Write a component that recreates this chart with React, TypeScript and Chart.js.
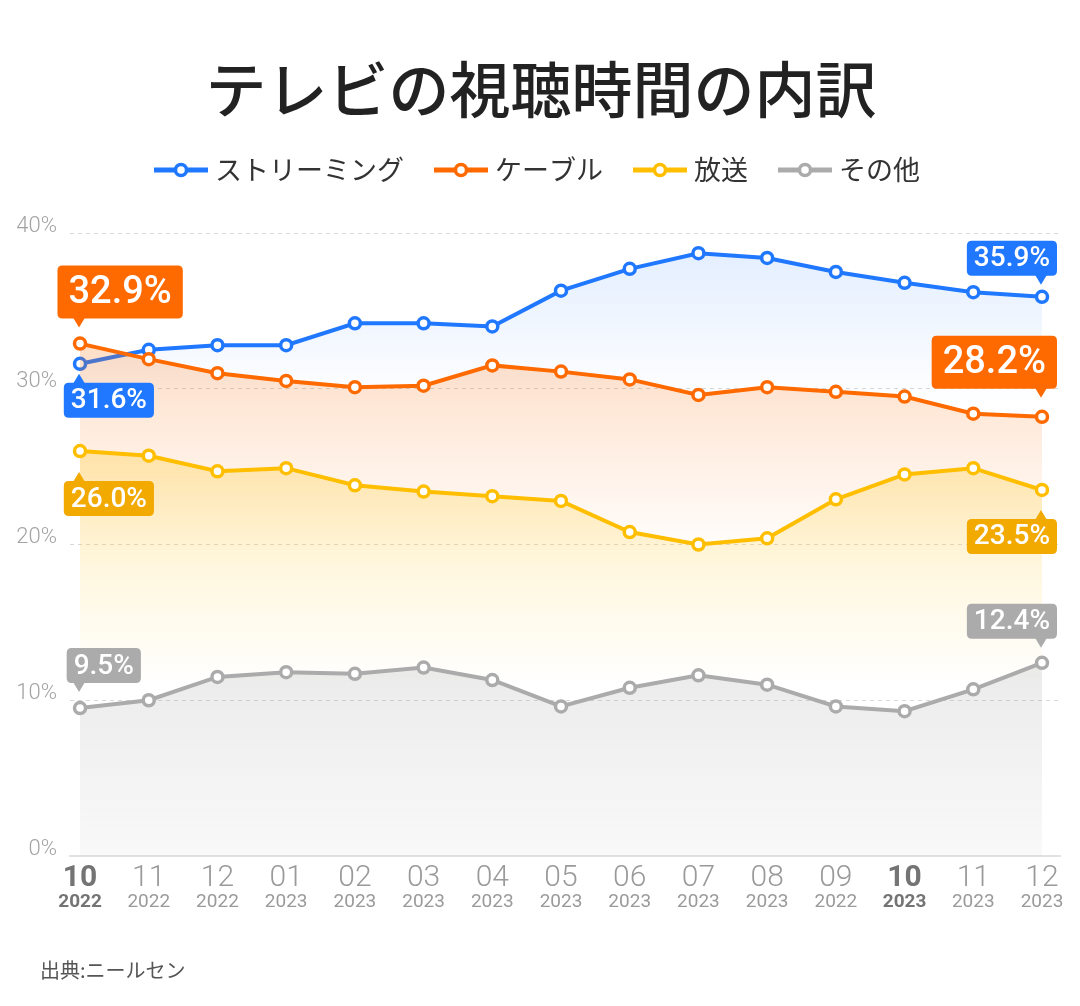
import React, { useEffect, useRef } from "react";
import { Chart, registerables } from "chart.js";

Chart.register(...registerables);

// ---------- data ----------
const TITLE = "テレビの視聴時間の内訳";
const SOURCE = "出典:ニールセン";
const MONTHS = ["10", "11", "12", "01", "02", "03", "04", "05", "06", "07", "08", "09", "10", "11", "12"];
const YEARS = ["2022", "2022", "2022", "2023", "2023", "2023", "2023", "2023", "2023", "2023", "2023", "2022", "2023", "2023", "2023"];
const BOLD_TICKS = [0, 12];
const SERIES_NAMES = ["ストリーミング", "ケーブル", "放送", "その他"];
const STREAMING = [31.6, 32.5, 32.8, 32.8, 34.2, 34.2, 34.0, 36.3, 37.7, 38.7, 38.4, 37.5, 36.8, 36.2, 35.9];
const CABLE = [32.9, 31.9, 31.0, 30.5, 30.1, 30.2, 31.5, 31.1, 30.6, 29.6, 30.1, 29.8, 29.5, 28.4, 28.2];
const BROADCAST = [26.0, 25.7, 24.7, 24.9, 23.8, 23.4, 23.1, 22.8, 20.8, 20.0, 20.4, 22.9, 24.5, 24.9, 23.5];
const OTHER = [9.5, 10.0, 11.5, 11.8, 11.7, 12.1, 11.3, 9.6, 10.8, 11.6, 11.0, 9.6, 9.3, 10.7, 12.4];
const Y_MIN = 0;
const Y_MAX = 40;
const Y_STEP = 10;

// ---------- styles ----------
const LINE_COLORS = ["#1f78ff", "#ff6a00", "#ffbf00", "#ababab"];
const BOX_COLORS = ["#1f78ff", "#ff6a00", "#f2a900", "#ababab"];
const FILL_RGB = ["31,120,255", "255,106,0", "255,191,0", "170,170,170"];
const FILL_STYLE = [
  { bottom: 29, a0: 0.12, a1: 0 },
  { bottom: 19, a0: 0.22, a1: 0 },
  { bottom: 11, a0: 0.26, a1: 0 },
  { bottom: 0, a0: 0.24, a1: 0.07 },
];
const CJK = "'Noto Sans CJK JP', 'Noto Sans', sans-serif";
const NUM = "Roboto, 'Liberation Sans', sans-serif";

const CALLOUTS = [
  { ds: 1, idx: 0, place: "above", size: "large", gap: 16 },
  { ds: 0, idx: 0, place: "below", size: "small", gap: 10 },
  { ds: 2, idx: 0, place: "below", size: "small", gap: 21 },
  { ds: 3, idx: 0, place: "above", size: "small", gap: 16 },
  { ds: 0, idx: 14, place: "above", size: "small", gap: 12 },
  { ds: 1, idx: 14, place: "above", size: "large", gap: 19 },
  { ds: 2, idx: 14, place: "below", size: "small", gap: 20 },
  { ds: 3, idx: 14, place: "above", size: "small", gap: 15 },
];

function roundRect(ctx: CanvasRenderingContext2D, x: number, y: number, w: number, h: number, r: number) {
  ctx.beginPath();
  ctx.moveTo(x + r, y);
  ctx.lineTo(x + w - r, y);
  ctx.quadraticCurveTo(x + w, y, x + w, y + r);
  ctx.lineTo(x + w, y + h - r);
  ctx.quadraticCurveTo(x + w, y + h, x + w - r, y + h);
  ctx.lineTo(x + r, y + h);
  ctx.quadraticCurveTo(x, y + h, x, y + h - r);
  ctx.lineTo(x, y + r);
  ctx.quadraticCurveTo(x, y, x + r, y);
  ctx.closePath();
}

function drawCallout(
  ctx: CanvasRenderingContext2D,
  px: number,
  py: number,
  text: string,
  color: string,
  size: string,
  side: string,
  place: string,
  gap: number
) {
  const large = size === "large";
  const fontSize = large ? 38 : 28;
  ctx.font = `500 ${fontSize}px ${NUM}`;
  const tw = ctx.measureText(text).width;
  const padX = large ? 11 : 7;
  const h = large ? 53 : 35;
  const w = tw + padX * 2;
  const left = side === "left" ? px - 0.18 * w : px + 15 - w;
  const tri = 9;
  let tipY: number, top: number, baseY: number;
  if (place === "above") {
    tipY = py - gap;
    baseY = tipY - tri;
    top = baseY - h;
  } else {
    tipY = py + gap;
    baseY = tipY + tri;
    top = baseY;
  }
  ctx.fillStyle = color;
  roundRect(ctx, left, top, w, h, 5);
  ctx.fill();
  const tx = px - 1;
  ctx.beginPath();
  ctx.moveTo(tx - 6, place === "above" ? baseY - 1 : baseY + 1);
  ctx.lineTo(tx + 6, place === "above" ? baseY - 1 : baseY + 1);
  ctx.lineTo(tx, tipY);
  ctx.closePath();
  ctx.fill();
  ctx.fillStyle = "#ffffff";
  ctx.textAlign = "center";
  ctx.textBaseline = "middle";
  ctx.fillText(text, left + w / 2, top + h / 2 + 1);
}

const decorPlugin = {
  id: "decor",
  afterDraw(chart: any) {
    const ctx: CanvasRenderingContext2D = chart.ctx;
    const W = chart.width;
    ctx.save();

    // title
    ctx.fillStyle = "#222222";
    ctx.font = `500 61px ${CJK}`;
    ctx.textAlign = "center";
    ctx.textBaseline = "middle";
    ctx.fillText(TITLE, W / 2 + 1, 90);

    // legend
    ctx.font = `27px ${CJK}`;
    const markerW = 54;
    const gapMT = 7;
    const gapItems = 30;
    const widths = SERIES_NAMES.map((n) => ctx.measureText(n).width);
    const total = widths.reduce((a, b) => a + b + markerW + gapMT, 0) + gapItems * (SERIES_NAMES.length - 1);
    let lx = W / 2 - 3 - total / 2;
    const ly = 170;
    SERIES_NAMES.forEach((name, i) => {
      ctx.strokeStyle = LINE_COLORS[i];
      ctx.lineWidth = 5;
      ctx.beginPath();
      ctx.moveTo(lx, ly);
      ctx.lineTo(lx + markerW, ly);
      ctx.stroke();
      ctx.beginPath();
      ctx.arc(lx + markerW / 2, ly, 5.5, 0, Math.PI * 2);
      ctx.fillStyle = "#ffffff";
      ctx.fill();
      ctx.lineWidth = 3.5;
      ctx.stroke();
      ctx.fillStyle = "#333333";
      ctx.textAlign = "left";
      ctx.textBaseline = "middle";
      ctx.fillText(name, lx + markerW + gapMT, ly);
      lx += markerW + gapMT + widths[i] + gapItems;
    });

    // x tick labels (two lines)
    const xs = chart.scales.x;
    const yBottom = chart.chartArea.bottom;
    MONTHS.forEach((m, i) => {
      const x = xs.getPixelForValue(i);
      const bold = BOLD_TICKS.includes(i);
      ctx.textAlign = "center";
      ctx.textBaseline = "middle";
      ctx.fillStyle = bold ? "#747474" : "#9a9a9a";
      ctx.font = `${bold ? "bold" : "300"} 30px ${NUM}`;
      ctx.fillText(m, x, yBottom + 22);
      ctx.font = `${bold ? "bold" : "normal"} 19px ${NUM}`;
      ctx.fillText(YEARS[i], x, yBottom + 46);
    });

    // source
    ctx.fillStyle = "#555555";
    ctx.font = `20px ${CJK}`;
    ctx.textAlign = "left";
    ctx.textBaseline = "middle";
    ctx.fillText(SOURCE, 40, 970);

    // callouts
    CALLOUTS.forEach((c) => {
      const meta = chart.getDatasetMeta(c.ds);
      const pt = meta.data[c.idx];
      const val = chart.data.datasets[c.ds].data[c.idx].y;
      drawCallout(
        ctx,
        pt.x,
        pt.y,
        val.toFixed(1) + "%",
        BOX_COLORS[c.ds],
        c.size,
        c.idx === 0 ? "left" : "right",
        c.place,
        c.gap
      );
    });
    ctx.restore();
  },
};

function makeFill(i: number, values: number[]) {
  return (context: any) => {
    const chart = context.chart;
    if (!chart.chartArea || !chart.scales.y) return "rgba(0,0,0,0)";
    const ys = chart.scales.y;
    const top = ys.getPixelForValue(Math.max(...values));
    const bottom = ys.getPixelForValue(FILL_STYLE[i].bottom);
    const g = chart.ctx.createLinearGradient(0, top, 0, bottom);
    g.addColorStop(0, `rgba(${FILL_RGB[i]},${FILL_STYLE[i].a0})`);
    g.addColorStop(1, `rgba(${FILL_RGB[i]},${FILL_STYLE[i].a1})`);
    return g;
  };
}

export default function App() {
  const ref = useRef<HTMLCanvasElement | null>(null);

  useEffect(() => {
    if (!ref.current) return;
    const all = [STREAMING, CABLE, BROADCAST, OTHER];
    const datasets = all.map((vals, i) => ({
      label: SERIES_NAMES[i],
      data: vals.map((v, j) => ({ x: j, y: v })),
      borderColor: LINE_COLORS[i],
      borderWidth: 4,
      pointRadius: 5.5,
      pointBorderWidth: 3.5,
      pointBackgroundColor: "#ffffff",
      pointBorderColor: LINE_COLORS[i],
      pointHoverRadius: 5.5,
      tension: 0,
      fill: "origin",
      backgroundColor: makeFill(i, vals),
      order: 4 - i,
    }));

    const chart = new Chart(ref.current, {
      type: "line",
      data: { datasets },
      options: {
        animation: false,
        responsive: true,
        maintainAspectRatio: false,
        layout: { padding: { top: 233, right: 20, bottom: 50, left: 0 } },
        plugins: {
          legend: { display: false },
          tooltip: { enabled: false },
          title: { display: false },
        },
        scales: {
          x: {
            type: "linear",
            min: -0.146,
            max: 14.262,
            ticks: { display: false },
            grid: { display: false },
            border: { display: true, color: "#e2e2e2", width: 2 },
            afterFit: (scale: any) => {
              scale.height = 100;
            },
          },
          y: {
            type: "linear",
            min: Y_MIN,
            max: Y_MAX,
            ticks: {
              stepSize: Y_STEP,
              padding: 13,
              labelOffset: -7,
              color: "#a3a3a3",
              font: { size: 22, family: NUM, weight: "300" },
              callback: (v: any) => v + "%",
            },
            grid: {
              drawTicks: false,
              lineWidth: 1,
              color: (c: any) => (c.tick && c.tick.value === 0 ? "rgba(0,0,0,0)" : "#d8d8d8"),
            },
            border: { display: false, dash: [4, 4] },
            afterFit: (scale: any) => {
              scale.width = 70;
            },
          },
        },
      },
      plugins: [decorPlugin],
    });
    return () => chart.destroy();
  }, []);

  return (
    <div style={{ position: "absolute", left: 0, top: 0, width: 1080, height: 1006, background: "#ffffff" }}>
      <canvas ref={ref} />
    </div>
  );
}
